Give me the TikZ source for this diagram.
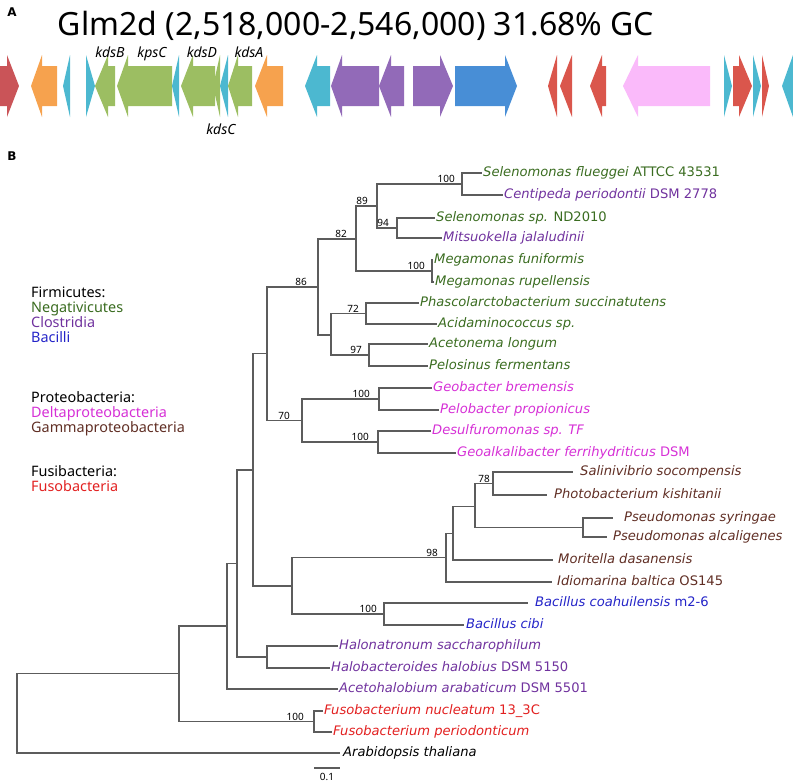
\documentclass[tikz,border=0pt]{standalone}
\usepackage{fontspec}
\setmainfont{Noto Sans}
\newfontfamily\tipfont{DejaVu Sans}
\usetikzlibrary{positioning}
\definecolor[named]{GeneRed}{RGB}{202,84,88}
\definecolor[named]{GeneRedB}{RGB}{218,86,76}
\definecolor[named]{GeneOrange}{RGB}{246,162,78}
\definecolor[named]{GeneCyan}{RGB}{76,184,208}
\definecolor[named]{GeneGreen}{RGB}{156,190,98}
\definecolor[named]{GenePurple}{RGB}{146,106,184}
\definecolor[named]{GeneBlue}{RGB}{72,142,214}
\definecolor[named]{GenePink}{RGB}{250,186,250}
\definecolor[named]{NegGreen}{RGB}{58,108,32}
\definecolor[named]{CloPurple}{RGB}{112,50,158}
\definecolor[named]{BacBlue}{RGB}{36,36,200}
\definecolor[named]{DelMagenta}{RGB}{214,48,214}
\definecolor[named]{GamBrown}{RGB}{96,46,36}
\definecolor[named]{FusRed}{RGB}{226,32,32}
\definecolor[named]{TreeGray}{RGB}{92,92,92}
% tail, head base, tip, colour
\newcommand{\gene}[4]{%
  \fill[#4] (#1,66) -- (#2,66) -- (#2,55) -- (#3,86) -- (#2,117)
    -- (#2,106) -- (#1,106) -- cycle;
}
\tikzset{
  branch/.style={draw=TreeGray,line width=1.1pt},
  tip/.style={inner sep=1pt,text height=9.5pt,text depth=3pt,
    font=\tipfont\fontsize{13.1}{15}\selectfont\itshape},
  boot/.style={anchor=south east,inner sep=1pt,xshift=-6pt,
    font=\fontsize{10}{10}\selectfont},
  genename/.style={anchor=base,inner sep=0pt,
    font=\fontsize{14}{14}\selectfont\itshape},
  legend/.style={anchor=base west,align=left,inner sep=0pt,
    font=\fontsize{14.4}{15}\selectfont},
  panel/.style={inner sep=0pt,font=\tipfont\bfseries\fontsize{12}{13}\selectfont}
}
\begin{document}
\begin{tikzpicture}[x=1pt,y=-1pt]
  \useasboundingbox (0,0) rectangle (793,782);

  % Panel A {{{
  \node[panel] (pA) at (12,12) {A};
  \node[anchor=base,inner sep=0pt,font=\fontsize{32}{36}\selectfont] (title)
    at (356,35) {Glm2d (2,518,000-2,546,000) 31.68\% GC};

  \gene{0}{7}{19}{GeneRed}
  \gene{57}{42}{31}{GeneOrange}
  \gene{70}{70}{63}{GeneCyan}
  \gene{86}{86}{95}{GeneCyan}
  \gene{115}{108}{95}{GeneGreen}
  \gene{172}{128}{117}{GeneGreen}
  \gene{179}{179}{172}{GeneCyan}
  \gene{215}{193}{181}{GeneGreen}
  \gene{220}{220}{213}{GeneGreen}
  \gene{228}{228}{220}{GeneCyan}
  \gene{252}{238}{228}{GeneGreen}
  \gene{283}{267}{255}{GeneOrange}
  \gene{330}{317}{305}{GeneCyan}
  \gene{379}{342}{331}{GenePurple}
  \gene{404}{391}{379}{GenePurple}
  \gene{413}{440}{453}{GenePurple}
  \gene{455}{505}{517}{GeneBlue}
  \gene{557}{557}{548}{GeneRedB}
  \gene{572}{572}{560}{GeneRedB}
  \gene{606}{602}{590}{GeneRedB}
  \gene{710}{638}{623}{GenePink}
  \gene{724}{724}{732}{GeneCyan}
  \gene{733}{739}{752}{GeneRedB}
  \gene{753}{753}{761}{GeneCyan}
  \gene{762}{762}{769}{GeneRedB}
  \gene{793}{793}{782}{GeneCyan}

  \node[genename] (kdsB) at (110,57) {kdsB};
  \node[genename] (kpsC) at (152,57) {kpsC};
  \node[genename] (kdsD) at (202,57) {kdsD};
  \node[genename] (kdsA) at (249,57) {kdsA};
  \node[genename] (kdsC) at (221,134) {kdsC};
  % }}}

  % Panel B {{{
  \node[panel] (pB) at (12,156) {B};

  \node[legend] (firm) at (31,342) {Firmicutes:\\
    \textcolor{NegGreen}{Negativicutes}\\
    \textcolor{CloPurple}{Clostridia}\\
    \textcolor{BacBlue}{Bacilli}};
  \node[legend] (prot) at (31,432) {Proteobacteria:\\
    \textcolor{DelMagenta}{Deltaproteobacteria}\\
    \textcolor{GamBrown}{Gammaproteobacteria}};
  \node[legend] (fusi) at (31,491) {Fusibacteria:\\
    \textcolor{FusRed}{Fusobacteria}};

  % inner nodes
  \coordinate (root) at (17,713.5);
  \coordinate (nA) at (179,673.5);
  \coordinate (nB) at (227,626);
  \coordinate (nC) at (237,563.5);
  \coordinate (nHalo) at (267,657);
  \coordinate (nD) at (253,470);
  \coordinate (nE) at (267,353.5);
  \coordinate (n86) at (318,287);
  \coordinate (n82) at (356,239);
  \coordinate (n89) at (377,206);
  \coordinate (nSel) at (462,184);
  \coordinate (n94) at (397,228);
  \coordinate (nMega) at (432,271);
  \coordinate (nG) at (331,335);
  \coordinate (n72) at (366,313.5);
  \coordinate (n97) at (369,355);
  \coordinate (n70) at (302,420.5);
  \coordinate (nGeo) at (379,399);
  \coordinate (nDes) at (378,442);
  \coordinate (nF) at (292,586);
  \coordinate (n98) at (446,557.5);
  \coordinate (nH) at (453,533.5);
  \coordinate (nI) at (475,506.5);
  \coordinate (n78) at (493,483.5);
  \coordinate (nPs) at (583,527.5);
  \coordinate (nBac) at (384,614);
  \coordinate (nFuso) at (314,721.5);

  % leaf ends
  \coordinate (l01) at (482,173);
  \coordinate (l02) at (503,195);
  \coordinate (l03) at (435,218);
  \coordinate (l04) at (442,238);
  \coordinate (l05) at (433,260);
  \coordinate (l06) at (434,282);
  \coordinate (l07) at (419,303);
  \coordinate (l08) at (437,324);
  \coordinate (l09) at (428,344);
  \coordinate (l10) at (428,366);
  \coordinate (l11) at (432,388);
  \coordinate (l12) at (439,410);
  \coordinate (l13) at (431,431);
  \coordinate (l14) at (456,453);
  \coordinate (l15) at (573,472);
  \coordinate (l16) at (547,495);
  \coordinate (l17) at (613,518);
  \coordinate (l18) at (607,537);
  \coordinate (l19) at (553,560);
  \coordinate (l20) at (552,582);
  \coordinate (l21) at (528,603);
  \coordinate (l22) at (464,625);
  \coordinate (l23) at (338,646);
  \coordinate (l24) at (330,668);
  \coordinate (l25) at (338,689);
  \coordinate (l26) at (323,711);
  \coordinate (l27) at (332,732);
  \coordinate (l28) at (340,753);

  \foreach \p/\c in {root/nA,root/l28,nA/nB,nA/nFuso,nB/nC,nB/l25,
      nC/nD,nC/nHalo,nHalo/l23,nHalo/l24,nD/nE,nD/nF,nE/n86,nE/n70,
      n86/n82,n86/nG,n82/n89,n82/nMega,n89/nSel,n89/n94,nSel/l01,nSel/l02,
      n94/l03,n94/l04,nMega/l05,nMega/l06,nG/n72,nG/n97,n72/l07,n72/l08,
      n97/l09,n97/l10,n70/nGeo,n70/nDes,nGeo/l11,nGeo/l12,nDes/l13,nDes/l14,
      nF/n98,nF/nBac,n98/nH,n98/l20,nH/nI,nH/l19,nI/n78,nI/nPs,
      n78/l15,n78/l16,nPs/l17,nPs/l18,nBac/l21,nBac/l22,nFuso/l26,nFuso/l27}
    \draw[branch] (\p) |- (\c);

  % leaf labels
  \node[tip,text=NegGreen,right=0pt of l01] (t01) {Selenomonas flueggei {\upshape ATTCC 43531}};
  \node[tip,text=CloPurple,right=0pt of l02] (t02) {Centipeda periodontii {\upshape DSM 2778}};
  \node[tip,text=NegGreen,right=0pt of l03] (t03) {Selenomonas sp. {\upshape ND2010}};
  \node[tip,text=CloPurple,right=0pt of l04] (t04) {Mitsuokella jalaludinii};
  \node[tip,text=NegGreen,right=0pt of l05] (t05) {Megamonas funiformis};
  \node[tip,text=NegGreen,right=0pt of l06] (t06) {Megamonas rupellensis};
  \node[tip,text=NegGreen,right=0pt of l07] (t07) {Phascolarctobacterium succinatutens};
  \node[tip,text=NegGreen,right=0pt of l08] (t08) {Acidaminococcus sp.};
  \node[tip,text=NegGreen,right=0pt of l09] (t09) {Acetonema longum};
  \node[tip,text=NegGreen,right=0pt of l10] (t10) {Pelosinus fermentans};
  \node[tip,text=DelMagenta,right=0pt of l11] (t11) {Geobacter bremensis};
  \node[tip,text=DelMagenta,right=0pt of l12] (t12) {Pelobacter propionicus};
  \node[tip,text=DelMagenta,right=0pt of l13] (t13) {Desulfuromonas sp. TF};
  \node[tip,text=DelMagenta,right=0pt of l14] (t14) {Geoalkalibacter ferrihydriticus {\upshape DSM}};
  \node[tip,text=GamBrown,right=6pt of l15] (t15) {Salinivibrio socompensis};
  \node[tip,text=GamBrown,right=6pt of l16] (t16) {Photobacterium kishitanii};
  \node[tip,text=GamBrown,right=10pt of l17] (t17) {Pseudomonas syringae};
  \node[tip,text=GamBrown,right=5pt of l18] (t18) {Pseudomonas alcaligenes};
  \node[tip,text=GamBrown,right=4pt of l19] (t19) {Moritella dasanensis};
  \node[tip,text=GamBrown,right=4pt of l20] (t20) {Idiomarina baltica {\upshape OS145}};
  \node[tip,text=BacBlue,right=6pt of l21] (t21) {Bacillus coahuilensis {\upshape m2-6}};
  \node[tip,text=BacBlue,right=1pt of l22] (t22) {Bacillus cibi};
  \node[tip,text=CloPurple,right=0pt of l23] (t23) {Halonatronum saccharophilum};
  \node[tip,text=CloPurple,right=0pt of l24] (t24) {Halobacteroides halobius {\upshape DSM 5150}};
  \node[tip,text=CloPurple,right=0pt of l25] (t25) {Acetohalobium arabaticum {\upshape DSM 5501}};
  \node[tip,text=FusRed,right=0pt of l26] (t26) {Fusobacterium nucleatum {\upshape 13\_3C}};
  \node[tip,text=FusRed,right=0pt of l27] (t27) {Fusobacterium periodonticum};
  \node[tip,text=black,right=2pt of l28] (t28) {Arabidopsis thaliana};

  % bootstrap values
  \node[boot] (b01) at (nSel) {100};
  \node[boot,xshift=-2pt] (b02) at (n89) {89};
  \node[boot,xshift=-1pt] (b03) at (n94) {94};
  \node[boot,xshift=-2pt] (b04) at (n82) {82};
  \node[boot] (b05) at (nMega) {100};
  \node[boot,xshift=-4pt] (b06) at (n86) {86};
  \node[boot] (b07) at (n72) {72};
  \node[boot] (b08) at (n97) {97};
  \node[boot,xshift=-2pt] (b09) at (nGeo) {100};
  \node[boot,xshift=-2pt] (b10) at (nDes) {100};
  \node[boot,xshift=-5pt] (b11) at (n70) {70};
  \node[boot,xshift=4pt] (b12) at (n78) {78};
  \node[boot,xshift=-1pt] (b13) at (n98) {98};
  \node[boot] (b14) at (nBac) {100};
  \node[boot,xshift=-3pt] (b15) at (nFuso) {100};

  % scale bar
  \coordinate (sb1) at (314,768);
  \coordinate (sb2) at (340,768);
  \draw[branch] (sb1) -- (sb2);
  \node[inner sep=0pt,font=\fontsize{10}{10}\selectfont] (sbl) at (327,777) {0.1};
  % }}}
\end{tikzpicture}
\end{document}
